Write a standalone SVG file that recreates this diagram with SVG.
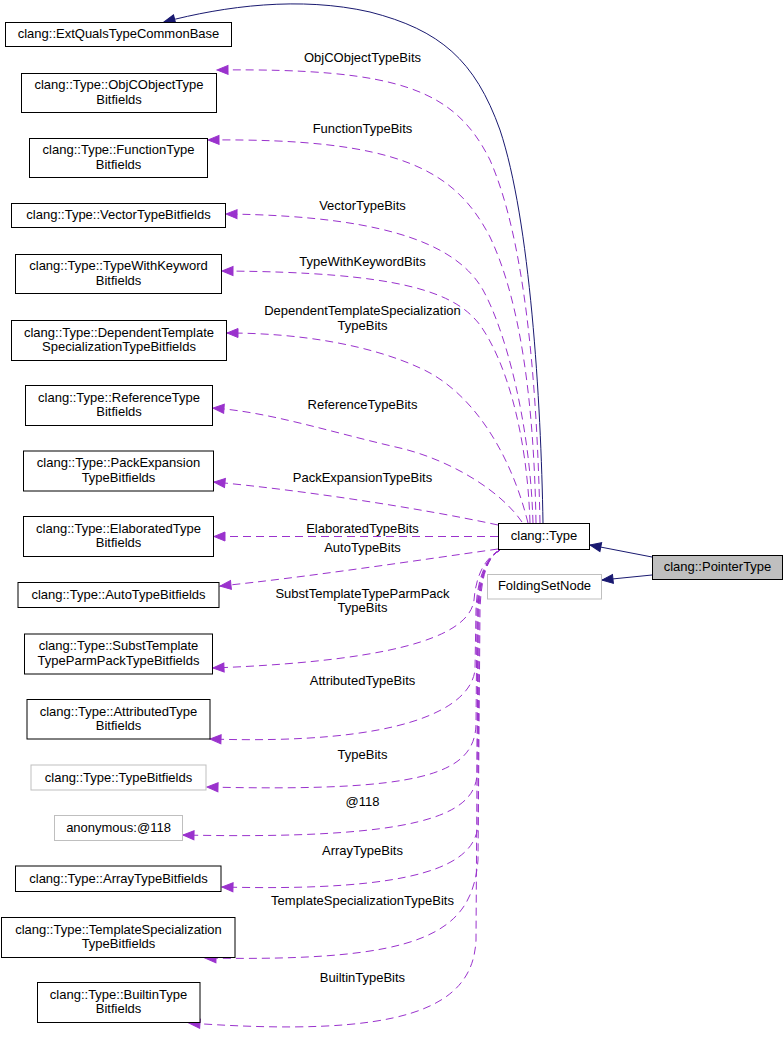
<svg xmlns="http://www.w3.org/2000/svg" width="784" height="1040" viewBox="0 0 784 1040">
<style>
text{font-family:"Liberation Sans",Arial,sans-serif;font-size:13px;fill:#000;text-anchor:middle}
.box{fill:#fff;stroke:#000;stroke-width:1}
.gbox{fill:#fff;stroke:#bfbfbf;stroke-width:1}
.cur{fill:#bfbfbf;stroke:#000;stroke-width:1}
.inh{fill:none;stroke:#191970;stroke-width:1}
.use{fill:none;stroke:#9a32cd;stroke-width:1;stroke-dasharray:8,5}
</style>
<defs>
<marker id="an" markerUnits="userSpaceOnUse" markerWidth="14" markerHeight="12" refX="11" refY="4.5" orient="auto" viewBox="-1 -1 14 11">
<path d="M0,0 L11,4.5 L0,9 z" fill="#191970" stroke="#191970" stroke-width="1"/>
</marker>
<marker id="ap" markerUnits="userSpaceOnUse" markerWidth="14" markerHeight="12" refX="11" refY="4.5" orient="auto" viewBox="-1 -1 14 11">
<path d="M0,0 L11,4.5 L0,9 z" fill="#9a32cd" stroke="#9a32cd" stroke-width="1"/>
</marker>
</defs>
<rect width="784" height="1040" fill="#fff"/>
<g id="edges">
<path class="inh" marker-end="url(#an)" d="M543,523 C541,400 530,220 500,130 C475,60 440,30 370,12 C300,-4 225,6 164,22"/>
<path class="inh" marker-end="url(#an)" d="M652,557 L590,545"/>
<path class="inh" marker-end="url(#an)" d="M652,575 L602,580"/>
<path class="use" marker-end="url(#ap)" d="M540,523 C537,380 525,240 490,160 C455,90 400,68 217,70"/>
<path class="use" marker-end="url(#ap)" d="M536,523 C534,400 520,300 490,237 C455,170 400,138 208,140"/>
<path class="use" marker-end="url(#ap)" d="M533,523 C530,420 505,330 483,290 C460,250 400,216 226,214"/>
<path class="use" marker-end="url(#ap)" d="M530,523 C527,430 505,360 480,325 C455,292 400,272 222,271"/>
<path class="use" marker-end="url(#ap)" d="M528,523 C510,450 470,390 420,368 C370,345 300,333 227,333"/>
<path class="use" marker-end="url(#ap)" d="M522,522 C500,490 450,460 400,448 C330,432 270,412 213,408"/>
<path class="use" marker-end="url(#ap)" d="M498,525 C420,508 300,490 214,482"/>
<path class="use" marker-end="url(#ap)" d="M498,536.5 L214,536.5"/>
<path class="use" marker-end="url(#ap)" d="M498,549 C420,560 300,578 220,586"/>
<path class="use" marker-end="url(#ap)" d="M500,550 C485,558 476,575 474,600 C470,630 420,660 213,668"/>
<path class="use" marker-end="url(#ap)" d="M500,550 C485,558 477,580 476,610 L475,670 C470,710 400,745 210,739"/>
<path class="use" marker-end="url(#ap)" d="M500,550 C485,558 478,580 477,610 L476,725 C474,775 420,792 207,787"/>
<path class="use" marker-end="url(#ap)" d="M500,550 C486,558 479,580 478,610 L477,775 C474,815 420,840 183,835"/>
<path class="use" marker-end="url(#ap)" d="M500,550 C486,558 480,580 479,610 L478,825 C475,865 420,892 222,887"/>
<path class="use" marker-end="url(#ap)" d="M500,550 C486,558 481,580 480,610 L478,860 C472,935 420,962 205,958"/>
<path class="use" marker-end="url(#ap)" d="M500,550 C486,558 479,580 478,610 L476,940 C473,1010 400,1038 189,1023"/>
</g>
<g id="edge-labels">
<text x="362.5" y="62">ObjCObjectTypeBits</text>
<text x="362.5" y="132.5">FunctionTypeBits</text>
<text x="362.5" y="209.5">VectorTypeBits</text>
<text x="362.5" y="266">TypeWithKeywordBits</text>
<text x="362.5" y="314.5">DependentTemplateSpecialization</text>
<text x="362.5" y="329.5">TypeBits</text>
<text x="362.5" y="409">ReferenceTypeBits</text>
<text x="362.5" y="482">PackExpansionTypeBits</text>
<text x="362.5" y="532.5">ElaboratedTypeBits</text>
<text x="362.5" y="552">AutoTypeBits</text>
<text x="362.5" y="597.5">SubstTemplateTypeParmPack</text>
<text x="362.5" y="612">TypeBits</text>
<text x="362.5" y="684.5">AttributedTypeBits</text>
<text x="362.5" y="758.5">TypeBits</text>
<text x="362.5" y="805.5">@118</text>
<text x="362.5" y="854.5">ArrayTypeBits</text>
<text x="362.5" y="904.5">TemplateSpecializationTypeBits</text>
<text x="362.5" y="981.5">BuiltinTypeBits</text>
</g>
<g id="n-pointertype"><rect class="cur" x="652.5" y="555.5" width="130" height="24"/><text x="717.5" y="571">clang::PointerType</text></g>
<g id="n-type"><rect class="box" x="498.5" y="523.5" width="91" height="26"/><text x="544" y="540">clang::Type</text></g>
<g id="n-foldingsetnode"><rect class="gbox" x="487.5" y="574.5" width="114" height="24.5"/><text x="544.5" y="590">FoldingSetNode</text></g>
<g id="n-extquals"><rect class="box" x="5.5" y="22.5" width="226" height="24"/><text x="118.5" y="38">clang::ExtQualsTypeCommonBase</text></g>
<g id="n-objcobject"><rect class="box" x="21.5" y="73.5" width="195" height="39"/><text x="119" y="89">clang::Type::ObjCObjectType</text><text x="119" y="103.5">Bitfields</text></g>
<g id="n-function"><rect class="box" x="29.5" y="138.5" width="178" height="39"/><text x="118.5" y="154">clang::Type::FunctionType</text><text x="118.5" y="168.5">Bitfields</text></g>
<g id="n-vector"><rect class="box" x="11.5" y="203.5" width="214" height="24"/><text x="118.5" y="219">clang::Type::VectorTypeBitfields</text></g>
<g id="n-typewithkeyword"><rect class="box" x="15.5" y="254.5" width="206" height="39"/><text x="118.5" y="270">clang::Type::TypeWithKeyword</text><text x="118.5" y="284.5">Bitfields</text></g>
<g id="n-dependenttemplate"><rect class="box" x="11.5" y="320.5" width="215" height="40"/><text x="119" y="336.5">clang::Type::DependentTemplate</text><text x="119" y="351">SpecializationTypeBitfields</text></g>
<g id="n-reference"><rect class="box" x="25.5" y="385.5" width="187" height="40"/><text x="119" y="401.5">clang::Type::ReferenceType</text><text x="119" y="416">Bitfields</text></g>
<g id="n-packexpansion"><rect class="box" x="23.5" y="451" width="190" height="40"/><text x="118.5" y="467">clang::Type::PackExpansion</text><text x="118.5" y="481.5">TypeBitfields</text></g>
<g id="n-elaborated"><rect class="box" x="23.5" y="516.5" width="190" height="40"/><text x="118.5" y="532.5">clang::Type::ElaboratedType</text><text x="118.5" y="547">Bitfields</text></g>
<g id="n-auto"><rect class="box" x="18" y="582.5" width="201" height="25"/><text x="118.5" y="599">clang::Type::AutoTypeBitfields</text></g>
<g id="n-subst"><rect class="box" x="24.5" y="634" width="188" height="40"/><text x="118.5" y="650">clang::Type::SubstTemplate</text><text x="118.5" y="664.5">TypeParmPackTypeBitfields</text></g>
<g id="n-attributed"><rect class="box" x="27" y="699.5" width="183" height="39.5"/><text x="118.5" y="715.5">clang::Type::AttributedType</text><text x="118.5" y="730">Bitfields</text></g>
<g id="n-typebitfields"><rect class="gbox" x="31" y="765" width="175" height="25"/><text x="118.5" y="781.5">clang::Type::TypeBitfields</text></g>
<g id="n-anonymous"><rect class="gbox" x="54.5" y="815.5" width="128" height="25"/><text x="118.5" y="832">anonymous:@118</text></g>
<g id="n-array"><rect class="box" x="15.5" y="866" width="205.5" height="25.5"/><text x="118.5" y="882.5">clang::Type::ArrayTypeBitfields</text></g>
<g id="n-templatespec"><rect class="box" x="1.5" y="917.5" width="233.5" height="40"/><text x="118.5" y="933.5">clang::Type::TemplateSpecialization</text><text x="118.5" y="948">TypeBitfields</text></g>
<g id="n-builtin"><rect class="box" x="37.5" y="982.5" width="162.5" height="40"/><text x="118.5" y="998.5">clang::Type::BuiltinType</text><text x="118.5" y="1013">Bitfields</text></g>
</svg>
